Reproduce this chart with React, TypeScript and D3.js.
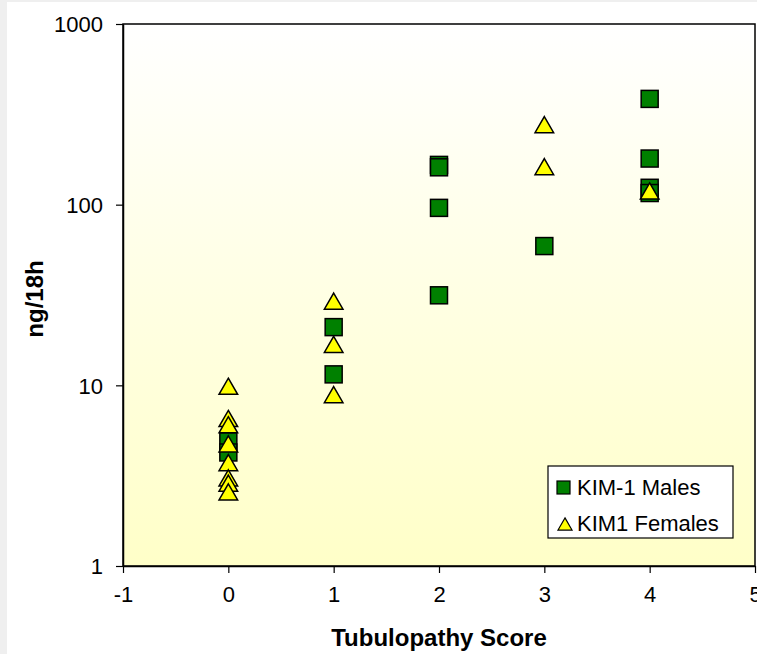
import React, { useEffect, useRef } from 'react';
import * as d3 from 'd3';

// tubulopathy score (x) and KIM-1 excretion in ng/18h (y)
const maleScores = [0, 0, 1, 1, 2, 2, 2, 2, 3, 4, 4, 4, 4];
const maleValues = [4.9, 4.25, 21, 11.5, 166, 161, 96, 31.5, 59, 385, 180, 124, 116];
const femaleScores = [0, 0, 0, 0, 0, 0, 0, 0, 1, 1, 1, 3, 3, 4];
const femaleValues = [9.8, 6.5, 6.0, 4.7, 3.7, 3.05, 2.85, 2.55, 29, 16.7, 8.8, 275, 161, 118];
const xTicks = [-1, 0, 1, 2, 3, 4, 5];
const yTicks = [1, 10, 100, 1000];
const seriesNames = ['KIM-1 Males', 'KIM1 Females'];

const W = 757;
const H = 654;

const App = () => {
  const ref = useRef<SVGSVGElement>(null);

  useEffect(() => {
    document.body.style.margin = '0';
    document.body.style.overflow = 'hidden';

    const svg = d3.select(ref.current);
    svg.selectAll('*').remove();

    const margin = { top: 24, right: 2, bottom: 88, left: 123 };
    const w = W - margin.left - margin.right;
    const h = H - margin.top - margin.bottom;

    svg.append('rect').attr('width', W).attr('height', H).attr('fill', '#fff');
    svg.append('rect').attr('width', 7).attr('height', H).attr('fill', '#efefef');
    svg.append('rect').attr('width', W).attr('height', 2).attr('fill', '#efefef');

    const grad = svg.append('defs').append('linearGradient')
      .attr('id', 'bg').attr('x1', 0).attr('y1', 0).attr('x2', 0).attr('y2', 1);
    grad.append('stop').attr('offset', '0%').attr('stop-color', '#ffffff');
    grad.append('stop').attr('offset', '100%').attr('stop-color', '#ffffc8');

    const g = svg.append('g').attr('transform', `translate(${margin.left},${margin.top})`);

    const x = d3.scaleLinear().domain([-1, 5]).range([0, w]);
    const y = d3.scaleLog().domain([1, 1000]).range([h, 0]);

    g.append('rect')
      .attr('width', w).attr('height', h)
      .attr('fill', 'url(#bg)')
      .attr('stroke', '#000').attr('stroke-width', 1.5);

    const font = 'Arial, "Liberation Sans", sans-serif';

    const xAxis = g.append('g')
      .attr('transform', `translate(0,${h})`)
      .call(d3.axisBottom(x).tickValues(xTicks).tickSize(7).tickSizeOuter(0).tickPadding(13).tickFormat(d => String(d)));
    const yAxis = g.append('g')
      .call(d3.axisLeft(y).tickValues(yTicks).tickSize(7).tickSizeOuter(0).tickPadding(13).tickFormat(d => String(d)));
    [xAxis, yAxis].forEach(a => {
      a.select('.domain').attr('stroke', '#000').attr('stroke-width', 1.5);
      a.selectAll('.tick line').attr('stroke', '#000').attr('stroke-width', 1.2);
      a.selectAll('.tick text').attr('font-family', font).attr('font-size', 22).attr('fill', '#000');
    });
    yAxis.selectAll('.tick text').attr('dy', '0.36em');

    svg.append('text')
      .attr('x', margin.left + w / 2).attr('y', 646)
      .attr('text-anchor', 'middle')
      .attr('font-family', font).attr('font-size', 24).attr('font-weight', 'bold')
      .text('Tubulopathy Score');

    svg.append('text')
      .attr('transform', `translate(43, 299) rotate(-90)`)
      .attr('text-anchor', 'middle')
      .attr('font-family', font).attr('font-size', 24).attr('font-weight', 'bold')
      .text('ng/18h');

    const sq = 17;
    const tri = d3.symbol().type(d3.symbolTriangle).size(150);
    const males = maleScores.map((s, i) => ({ s, v: maleValues[i] }));
    const females = femaleScores.map((s, i) => ({ s, v: femaleValues[i] }));

    g.selectAll('.male').data(males).join('rect')
      .attr('x', d => x(d.s) - sq / 2)
      .attr('y', d => y(d.v) - sq / 2)
      .attr('width', sq).attr('height', sq)
      .attr('fill', '#008000').attr('stroke', '#000').attr('stroke-width', 1.5);

    g.selectAll('.female').data(females).join('path')
      .attr('d', tri)
      .attr('transform', d => `translate(${x(d.s)},${y(d.v) + 2})`)
      .attr('fill', '#ffff00').attr('stroke', '#000').attr('stroke-width', 1.5);

    // legend
    const lg = svg.append('g').attr('transform', 'translate(548,466)');
    lg.append('rect').attr('width', 185).attr('height', 72)
      .attr('fill', '#fff').attr('stroke', '#000').attr('stroke-width', 1.2);
    lg.append('rect').attr('x', 9).attr('y', 15).attr('width', 13).attr('height', 13)
      .attr('fill', '#008000').attr('stroke', '#000').attr('stroke-width', 1.2);
    lg.append('path').attr('d', d3.symbol().type(d3.symbolTriangle).size(85)())
      .attr('transform', 'translate(17,60)')
      .attr('fill', '#ffff00').attr('stroke', '#000').attr('stroke-width', 1.2);
    lg.selectAll('.lt').data(seriesNames).join('text')
      .attr('x', 29).attr('y', (d, i) => 29 + i * 36)
      .attr('font-family', font).attr('font-size', 22)
      .text(d => d);
  }, []);

  return (
    <svg ref={ref} width={W} height={H} style={{ display: 'block', position: 'absolute', left: 0, top: 0 }}></svg>
  );
};

export default App;
